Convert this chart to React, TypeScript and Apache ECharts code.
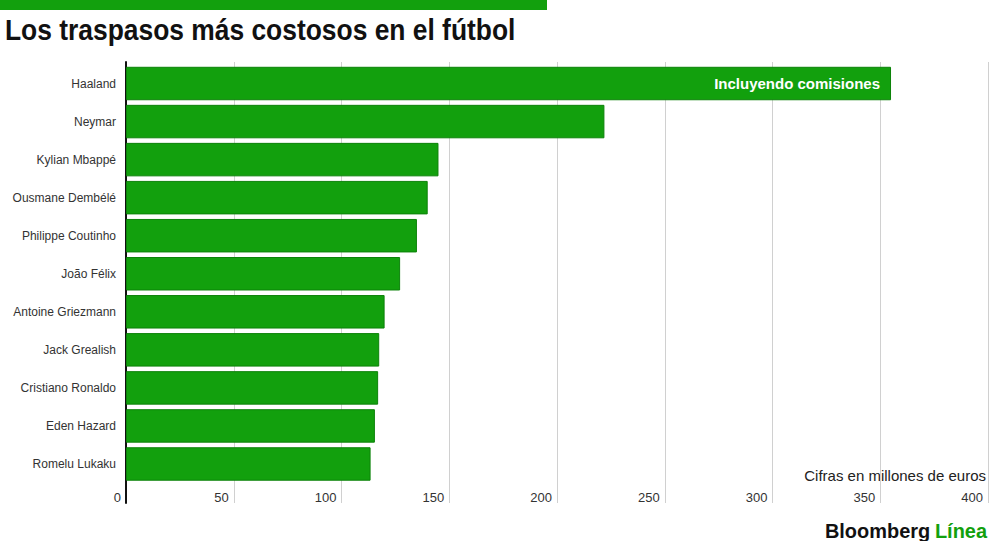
import React, { useEffect, useRef } from "react";
import * as echarts from "echarts";

const categories = [
  "Haaland",
  "Neymar",
  "Kylian Mbappé",
  "Ousmane Dembélé",
  "Philippe Coutinho",
  "João Félix",
  "Antoine Griezmann",
  "Jack Grealish",
  "Cristiano Ronaldo",
  "Eden Hazard",
  "Romelu Lukaku",
];
const values = [355, 222, 145, 140, 135, 127.2, 120, 117.5, 117, 115.5, 113.5];
const barNote = "Incluyendo comisiones";
const xTicks = { min: 0, max: 400, interval: 50 };

const title = "Los traspasos más costosos en el fútbol";
const unitNote = "Cifras en millones de euros";

const GREEN = "#12a00d";
const SANS = "'Liberation Sans', Arial, sans-serif";

export default function App() {
  const ref = useRef<HTMLDivElement>(null);
  useEffect(() => {
    if (!ref.current) return;
    const chart = echarts.init(ref.current, undefined, { renderer: "svg" });
    chart.setOption({
      animation: false,
      backgroundColor: "#ffffff",
      grid: [
        { left: 126, right: 12, top: 62, height: 441 },
        { left: 126, right: 12, top: 64.5, height: 418.5 },
      ],
      xAxis: [
        {
          gridIndex: 0,
          type: "value",
          min: xTicks.min,
          max: xTicks.max,
          interval: xTicks.interval,
          axisLine: { show: false },
          axisTick: { show: false },
          splitLine: { show: true, lineStyle: { color: "#d0d0d0", width: 1 } },
          axisLabel: {
            margin: -12,
            align: "right",
            padding: [0, 5, 0, 0],
            color: "#333",
            fontSize: 13,
            fontFamily: SANS,
          },
        },
        {
          gridIndex: 1,
          type: "value",
          min: xTicks.min,
          max: xTicks.max,
          show: false,
        },
      ],
      yAxis: [
        {
          gridIndex: 0,
          type: "value",
          min: 0,
          max: 1,
          axisLine: { show: true, lineStyle: { color: "#111", width: 2 } },
          axisTick: { show: false },
          axisLabel: { show: false },
          splitLine: { show: false },
        },
        {
          gridIndex: 1,
          type: "category",
          inverse: true,
          data: categories,
          axisLine: { show: false },
          axisTick: { show: false },
          axisLabel: {
            margin: 10,
            color: "#333",
            fontSize: 12,
            fontFamily: SANS,
          },
        },
      ],
      series: [
        {
          type: "bar",
          xAxisIndex: 1,
          yAxisIndex: 1,
          barCategoryGap: "12%",
          itemStyle: { color: GREEN, borderColor: "#0c8209", borderWidth: 1 },
          data: values.map((v, i) =>
            i === 0
              ? {
                  value: v,
                  label: {
                    show: true,
                    position: "insideRight",
                    distance: 11,
                    formatter: barNote,
                    color: "#fff",
                    fontWeight: "bold",
                    fontSize: 15,
                    fontFamily: SANS,
                  },
                }
              : v
          ),
        },
      ],
      graphic: [
        { type: "rect", shape: { x: 0, y: 0, width: 547, height: 10 }, style: { fill: GREEN } },
        {
          type: "text",
          x: 5,
          y: 29.5,
          scaleX: 0.88,
          style: {
            text: title,
            fill: "#111",
            font: `bold 30px ${SANS}`,
            textVerticalAlign: "middle",
          },
        },
        {
          type: "text",
          x: 986,
          y: 475,
          style: {
            text: unitNote,
            fill: "#222",
            font: `15px ${SANS}`,
            textAlign: "right",
            textVerticalAlign: "middle",
          },
        },
        {
          type: "text",
          x: 987,
          y: 530,
          scaleX: 0.95,
          style: {
            text: "{a|Bloomberg}{b|Línea}",
            textAlign: "right",
            textVerticalAlign: "middle",
            rich: {
              a: { font: `900 21px ${SANS}`, fill: "#111", padding: [0, 5, 0, 0] },
              b: { font: `900 21px ${SANS}`, fill: GREEN },
            },
          },
        },
      ],
    });
    return () => chart.dispose();
  }, []);
  return (
    <div
      ref={ref}
      style={{ position: "fixed", left: 0, top: 0, width: 1000, height: 541 }}
    />
  );
}
